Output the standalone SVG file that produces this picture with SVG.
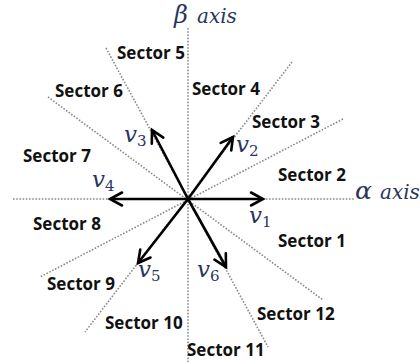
<svg xmlns="http://www.w3.org/2000/svg" width="420" height="362" viewBox="0 0 420 362">
<style>
.dot{stroke:#8a8a8a;stroke-width:1.6;stroke-dasharray:1.6 1.6;fill:none}
.vec{stroke:#000;stroke-width:2.6;fill:none;marker-end:url(#ah)}
.sec{font-family:"Open Sans","Liberation Sans",sans-serif;font-weight:bold;font-size:17px;fill:#111}
.mat{font-family:"DejaVu Serif","Liberation Serif",serif;font-style:italic;fill:#2a3560}
.v{font-size:23px}
.sub{font-size:15px;font-style:normal}
.ax{font-size:20px}
</style>
<defs>
<marker id="ah" viewBox="0 0 16 16" refX="13" refY="8" markerWidth="16" markerHeight="16" markerUnits="userSpaceOnUse" orient="auto" overflow="visible">
<path d="M1,1.5 L13,8 L1,14.5" fill="none" stroke="#000" stroke-width="2.6" stroke-linecap="round" stroke-linejoin="miter"/>
</marker>
</defs>
<g id="axes">
<line class="dot" x1="188" y1="28" x2="188" y2="362"/>
<line class="dot" x1="13" y1="199" x2="355" y2="199"/>
</g>
<g id="sector-lines">
<line class="dot" x1="106" y1="48" x2="268" y2="347"/>
<line class="dot" x1="292" y1="62" x2="85" y2="332"/>
<line class="dot" x1="343" y1="119" x2="40" y2="277"/>
<line class="dot" x1="48" y1="97" x2="323" y2="300"/>
</g>
<g id="connectors">
<line class="vec" x1="188" y1="199" x2="263" y2="199"/>
<line class="vec" x1="188" y1="199" x2="233" y2="137"/>
<line class="vec" x1="188" y1="199" x2="152" y2="130"/>
<line class="vec" x1="188" y1="199" x2="110" y2="199"/>
<line class="vec" x1="188" y1="199" x2="138" y2="263"/>
<line class="vec" x1="188" y1="199" x2="226" y2="267"/>
</g>
<g id="axis-labels">
<text class="mat ax" x="174" y="23"><tspan font-size="24">β</tspan><tspan x="197">axis</tspan></text>
<text class="mat ax" x="355" y="199"><tspan font-size="25">α</tspan><tspan x="380">axis</tspan></text>
</g>
<g id="vector-labels">
<text class="mat" x="249" y="223"><tspan class="v">v</tspan><tspan class="sub" dy="4">1</tspan></text>
<text class="mat" x="236" y="152"><tspan class="v">v</tspan><tspan class="sub" dy="4">2</tspan></text>
<text class="mat" x="124" y="142"><tspan class="v">v</tspan><tspan class="sub" dy="4">3</tspan></text>
<text class="mat" x="92" y="187"><tspan class="v">v</tspan><tspan class="sub" dy="4">4</tspan></text>
<text class="mat" x="138" y="277"><tspan class="v">v</tspan><tspan class="sub" dy="4">5</tspan></text>
<text class="mat" x="197" y="277"><tspan class="v">v</tspan><tspan class="sub" dy="4">6</tspan></text>
</g>
<g id="sector-labels">
<text class="sec" x="117" y="59">Sector 5</text>
<text class="sec" x="192" y="95">Sector 4</text>
<text class="sec" x="55" y="97">Sector 6</text>
<text class="sec" x="252" y="128">Sector 3</text>
<text class="sec" x="23" y="162">Sector 7</text>
<text class="sec" x="278" y="181">Sector 2</text>
<text class="sec" x="33" y="230">Sector 8</text>
<text class="sec" x="278" y="247">Sector 1</text>
<text class="sec" x="47" y="290">Sector 9</text>
<text class="sec" x="257" y="320">Sector 12</text>
<text class="sec" x="105" y="329">Sector 10</text>
<text class="sec" x="187" y="356">Sector 11</text>
</g>
</svg>
